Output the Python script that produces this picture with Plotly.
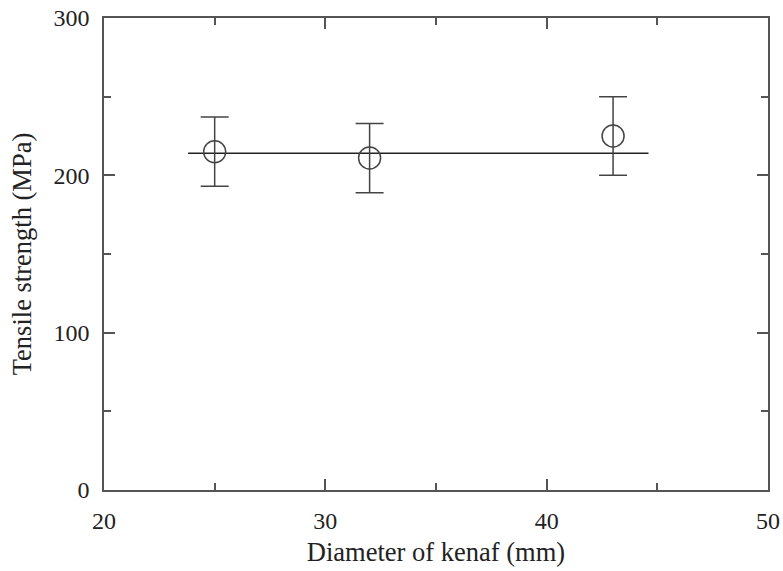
import plotly.graph_objects as go

diameter = [25, 32, 43]
strength = [215, 211, 225]
err = [22, 22, 25]
fit_x = [23.8, 44.6]
fit_y = [214, 214]
xticks = [20, 30, 40, 50]
yticks = [0, 100, 200, 300]

fig = go.Figure()
fig.add_trace(go.Scatter(x=fit_x, y=fit_y, mode="lines",
                         line=dict(color="#222222", width=1.5), showlegend=False))
fig.add_trace(go.Scatter(
    x=diameter, y=strength, mode="markers",
    marker=dict(symbol="circle-open", size=22, color="#444444", line=dict(width=1.5)),
    error_y=dict(type="data", array=err, visible=True, color="#444444", thickness=1.5, width=14),
    showlegend=False))

tfont = dict(family="Liberation Serif, Times New Roman, serif", size=24, color="#222222")
hfont = dict(family="Liberation Serif, Times New Roman, serif", size=26.5, color="#222222")
axis_common = dict(showgrid=False, zeroline=False, showline=True, linecolor="#555555",
                   linewidth=1.5, mirror="ticks", ticks="inside", tickcolor="#555555",
                   tickwidth=1.5, ticklen=11, tickfont=tfont, automargin=False,
                   ticklabeloverflow="allow")
fig.update_xaxes(range=[20, 50], tickvals=xticks, ticktext=[str(v) for v in xticks],
                 minor=dict(tickvals=[25, 35, 45], ticks="inside", ticklen=7,
                            tickcolor="#555555", tickwidth=1.5),
                 ticklabelstandoff=8,
                 title=dict(text="Diameter of kenaf (mm)", font=hfont, standoff=10),
                 **axis_common)
fig.update_yaxes(range=[0, 300], tickvals=yticks, ticktext=[str(v) for v in yticks],
                 minor=dict(tickvals=[50, 150, 250], ticks="inside", ticklen=7,
                            tickcolor="#555555", tickwidth=1.5),
                 ticklabelstandoff=8,
                 title=dict(text="Tensile strength (MPa)", font=hfont, standoff=14),
                 **axis_common)
fig.update_layout(width=783, height=571, margin=dict(l=104, r=15, t=18, b=81),
                  plot_bgcolor="white", paper_bgcolor="white", font=tfont)
fig.write_html("out.html", config={"displayModeBar": False},
               post_script="document.body.style.margin='0';document.body.style.overflow='hidden';")
